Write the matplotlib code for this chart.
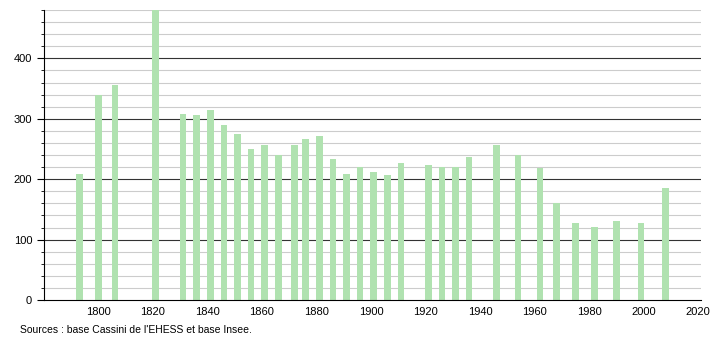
import matplotlib
matplotlib.use("Agg")
from matplotlib import pyplot as plt
from matplotlib.ticker import MultipleLocator

# population by census year
years = [1793, 1800, 1806, 1821, 1831, 1836, 1841, 1846, 1851, 1856, 1861,
         1866, 1872, 1876, 1881, 1886, 1891, 1896, 1901, 1906, 1911, 1921,
         1926, 1931, 1936, 1946, 1954, 1962, 1968, 1975, 1982, 1990, 1999,
         2008]
population = [208, 339, 356, 482, 308, 306, 314, 290, 274, 250, 256,
              240, 257, 266, 272, 234, 209, 220, 212, 207, 226, 224,
              220, 220, 236, 257, 240, 219, 161, 128, 121, 131, 127,
              186]
source_text = "Sources : base Cassini de l'EHESS et base Insee."

plt.rcParams['font.family'] = ['Liberation Sans', 'DejaVu Sans']

fig = plt.figure(figsize=(7.1, 3.4), dpi=100)
ax = fig.add_axes([0.062, 0.1176, 0.925, 0.853])

ax.set_xlim(1780, 2021)
ax.set_ylim(0, 480)
ax.set_xticks(range(1800, 2021, 20))
ax.yaxis.set_major_locator(MultipleLocator(100))
ax.yaxis.set_minor_locator(MultipleLocator(20))

# horizontal grid drawn behind the bars
minor_y = [v for v in ax.yaxis.get_minorticklocs() if v % 100]
major_y = [v for v in ax.yaxis.get_majorticklocs() if v > 0]
ax.hlines(minor_y, 1780, 2021, color="#cccccc", linewidth=0.8, zorder=1)
ax.hlines(major_y, 1780, 2021, color="#333333", linewidth=0.8, zorder=1)

ax.bar(years, population, width=2.4, color="#b0e2b0", zorder=3)

for s in ["top", "right"]:
    ax.spines[s].set_visible(False)
ax.spines["left"].set_zorder(4)
ax.spines["bottom"].set_zorder(4)

ax.tick_params(axis="x", length=0, labelsize=8, pad=5)
ax.tick_params(axis="y", which="major", length=5, labelsize=8)
ax.tick_params(axis="y", which="minor", length=2.5)

fig.text(0.028, 0.022, source_text, fontsize=7.5)

fig.savefig("out.png", dpi=100)
